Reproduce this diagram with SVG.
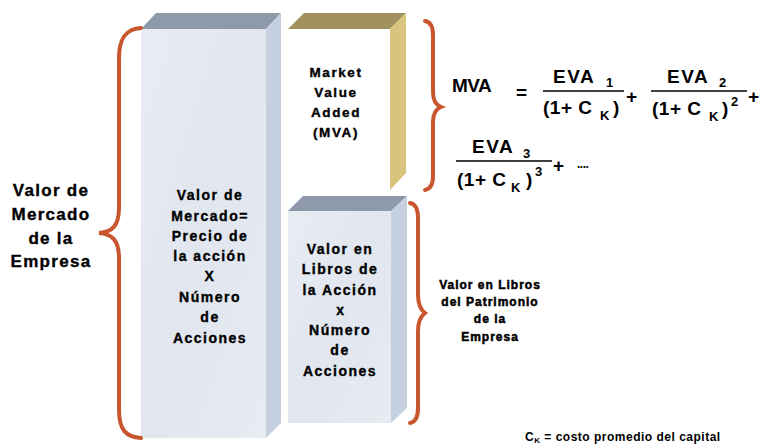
<svg xmlns="http://www.w3.org/2000/svg" width="764" height="448" viewBox="0 0 764 448">
<defs>
<style>
.t{font-family:"Liberation Sans",Arial,sans-serif;font-weight:bold;fill:#000;text-anchor:middle;stroke:#000;stroke-width:0.35px}
.box{font-size:14px;letter-spacing:1.5px}
.f{font-family:"Liberation Sans",Arial,sans-serif;font-weight:bold;fill:#000;font-size:19px}
.sub{font-size:13px}
.brace{fill:none;stroke:#C8572F;stroke-width:4;stroke-linecap:round}
.top{fill:#8E9AAA}
.side{fill:#C4D0E0}
</style>
<linearGradient id="g" x1="0" y1="0" x2="1" y2="1">
<stop offset="0" stop-color="#E8ECF3"/>
<stop offset="0.5" stop-color="#E1E6EF"/>
<stop offset="1" stop-color="#E7EBF2"/>
</linearGradient>
</defs>
<rect width="764" height="448" fill="#fff"/>

<g id="valor-mercado-box">
<rect x="141" y="29" width="125" height="409" fill="url(#g)"/>
<polygon class="top" points="141,29 156,13 281,13 266,29"/>
<polygon class="side" points="266,29 281,13 281,423 266,438"/>
<text class="t box" x="210" y="200">Valor de</text>
<text class="t box" x="210" y="221">Mercado=</text>
<text class="t box" x="210" y="241">Precio de</text>
<text class="t box" x="210" y="261">la acción</text>
<text class="t box" x="210" y="281">X</text>
<text class="t box" x="210" y="302">Número</text>
<text class="t box" x="210" y="322">de</text>
<text class="t box" x="210" y="343">Acciones</text>
</g>

<g id="mva-box">
<polygon fill="#A0915F" points="288,29 304,13 406,13 390,29"/>
<polygon fill="#D9C47E" points="390,29 406,13 406,173 390,190"/>
<text class="t" style="font-size:13.5px;letter-spacing:1.6px" x="336" y="77">Market</text>
<text class="t" style="font-size:13.5px;letter-spacing:1.6px" x="336" y="97">Value</text>
<text class="t" style="font-size:13.5px;letter-spacing:1.6px" x="336" y="117">Added</text>
<text class="t" style="font-size:13.5px;letter-spacing:1.6px" x="336" y="137">(MVA)</text>
</g>

<g id="libros-box">
<rect x="288" y="211" width="103" height="212" fill="url(#g)"/>
<polygon class="top" points="288,211 303,196 407,196 391,211"/>
<polygon class="side" points="391,211 407,196 407,408 391,423"/>
<text class="t box" x="340" y="254">Valor en</text>
<text class="t box" x="340" y="274">Libros de</text>
<text class="t box" x="340" y="295">la Acción</text>
<text class="t box" x="341" y="315">x</text>
<text class="t box" x="340" y="335">Número</text>
<text class="t box" x="340" y="355">de</text>
<text class="t box" x="340" y="376">Acciones</text>
</g>

<g id="connectors">
<path class="brace" d="M141,28 C126,29 119,38 119,58 L119,208 C119,226 112,232 99,233 C112,234 119,240 119,258 L119,410 C119,430 126,437 141,438"/>
<path class="brace" d="M425,21 C431,22 433,27 433,35 L433,92 C433,101 436,105 441,107 C436,109 433,113 433,122 L433,176 C433,184 431,189 425,190"/>
<path class="brace" d="M410,203 C416,204 418,209 418,218 L418,295 C418,305 421,310 425,313 C421,316 418,321 418,331 L418,408 C418,417 416,422 410,423"/>
</g>

<g id="valor-empresa-label">
<text class="t" style="font-size:17px;letter-spacing:1.3px" x="51" y="196">Valor de</text>
<text class="t" style="font-size:17px;letter-spacing:1.3px" x="51" y="220">Mercado</text>
<text class="t" style="font-size:17px;letter-spacing:1.3px" x="51" y="244">de la</text>
<text class="t" style="font-size:17px;letter-spacing:1.3px" x="51" y="267">Empresa</text>
</g>

<g id="libros-patrimonio-label">
<text class="t" style="font-size:12px;letter-spacing:1px;stroke-width:0.5px" x="490" y="289">Valor en Libros</text>
<text class="t" style="font-size:12px;letter-spacing:1px;stroke-width:0.5px" x="490" y="306">del Patrimonio</text>
<text class="t" style="font-size:12px;letter-spacing:1px;stroke-width:0.5px" x="490" y="323">de la</text>
<text class="t" style="font-size:12px;letter-spacing:1px;stroke-width:0.5px" x="490" y="341">Empresa</text>
</g>

<g id="formula">
<text class="f" x="452" y="92" style="letter-spacing:-0.5px">MVA</text>
<text class="f" x="516" y="99">=</text>
<line x1="543" y1="91" x2="624" y2="91" stroke="#000" stroke-width="1.5"/>
<text class="f" x="553" y="83" style="letter-spacing:1.5px">EVA</text>
<text class="f sub" x="606" y="87">1</text>
<text class="f" x="543" y="114" style="letter-spacing:0.5px">(1+ C</text>
<text class="f sub" x="600" y="120">K</text>
<text class="f" x="613" y="114">)</text>
<text class="f" x="626" y="103">+</text>

<line x1="651" y1="91" x2="747" y2="91" stroke="#000" stroke-width="1.5"/>
<text class="f" x="667" y="83" style="letter-spacing:1.5px">EVA</text>
<text class="f sub" x="719" y="87">2</text>
<text class="f" x="652" y="115" style="letter-spacing:0.5px">(1+ C</text>
<text class="f sub" x="709" y="121">K</text>
<text class="f" x="722" y="115">)</text>
<text class="f sub" x="731" y="106">2</text>
<text class="f" x="748" y="103">+</text>

<line x1="456" y1="161" x2="552" y2="161" stroke="#000" stroke-width="1.5"/>
<text class="f" x="472" y="153" style="letter-spacing:1.5px">EVA</text>
<text class="f sub" x="523" y="158">3</text>
<text class="f" x="457" y="186" style="letter-spacing:0.5px">(1+ C</text>
<text class="f sub" x="511" y="192">K</text>
<text class="f" x="526" y="186">)</text>
<text class="f sub" x="535" y="176">3</text>
<text class="f" x="553" y="172">+</text>
<text class="f" x="577" y="168" style="font-size:12px;letter-spacing:-0.5px">....</text>
</g>

<g id="footnote">
<text style="font-family:'Liberation Sans',Arial,sans-serif;font-weight:bold;font-size:12px;letter-spacing:0.5px;fill:#000" x="525" y="441">C<tspan font-size="8" dy="2">K</tspan><tspan dy="-2"> = costo promedio del capital</tspan></text>
</g>
</svg>
